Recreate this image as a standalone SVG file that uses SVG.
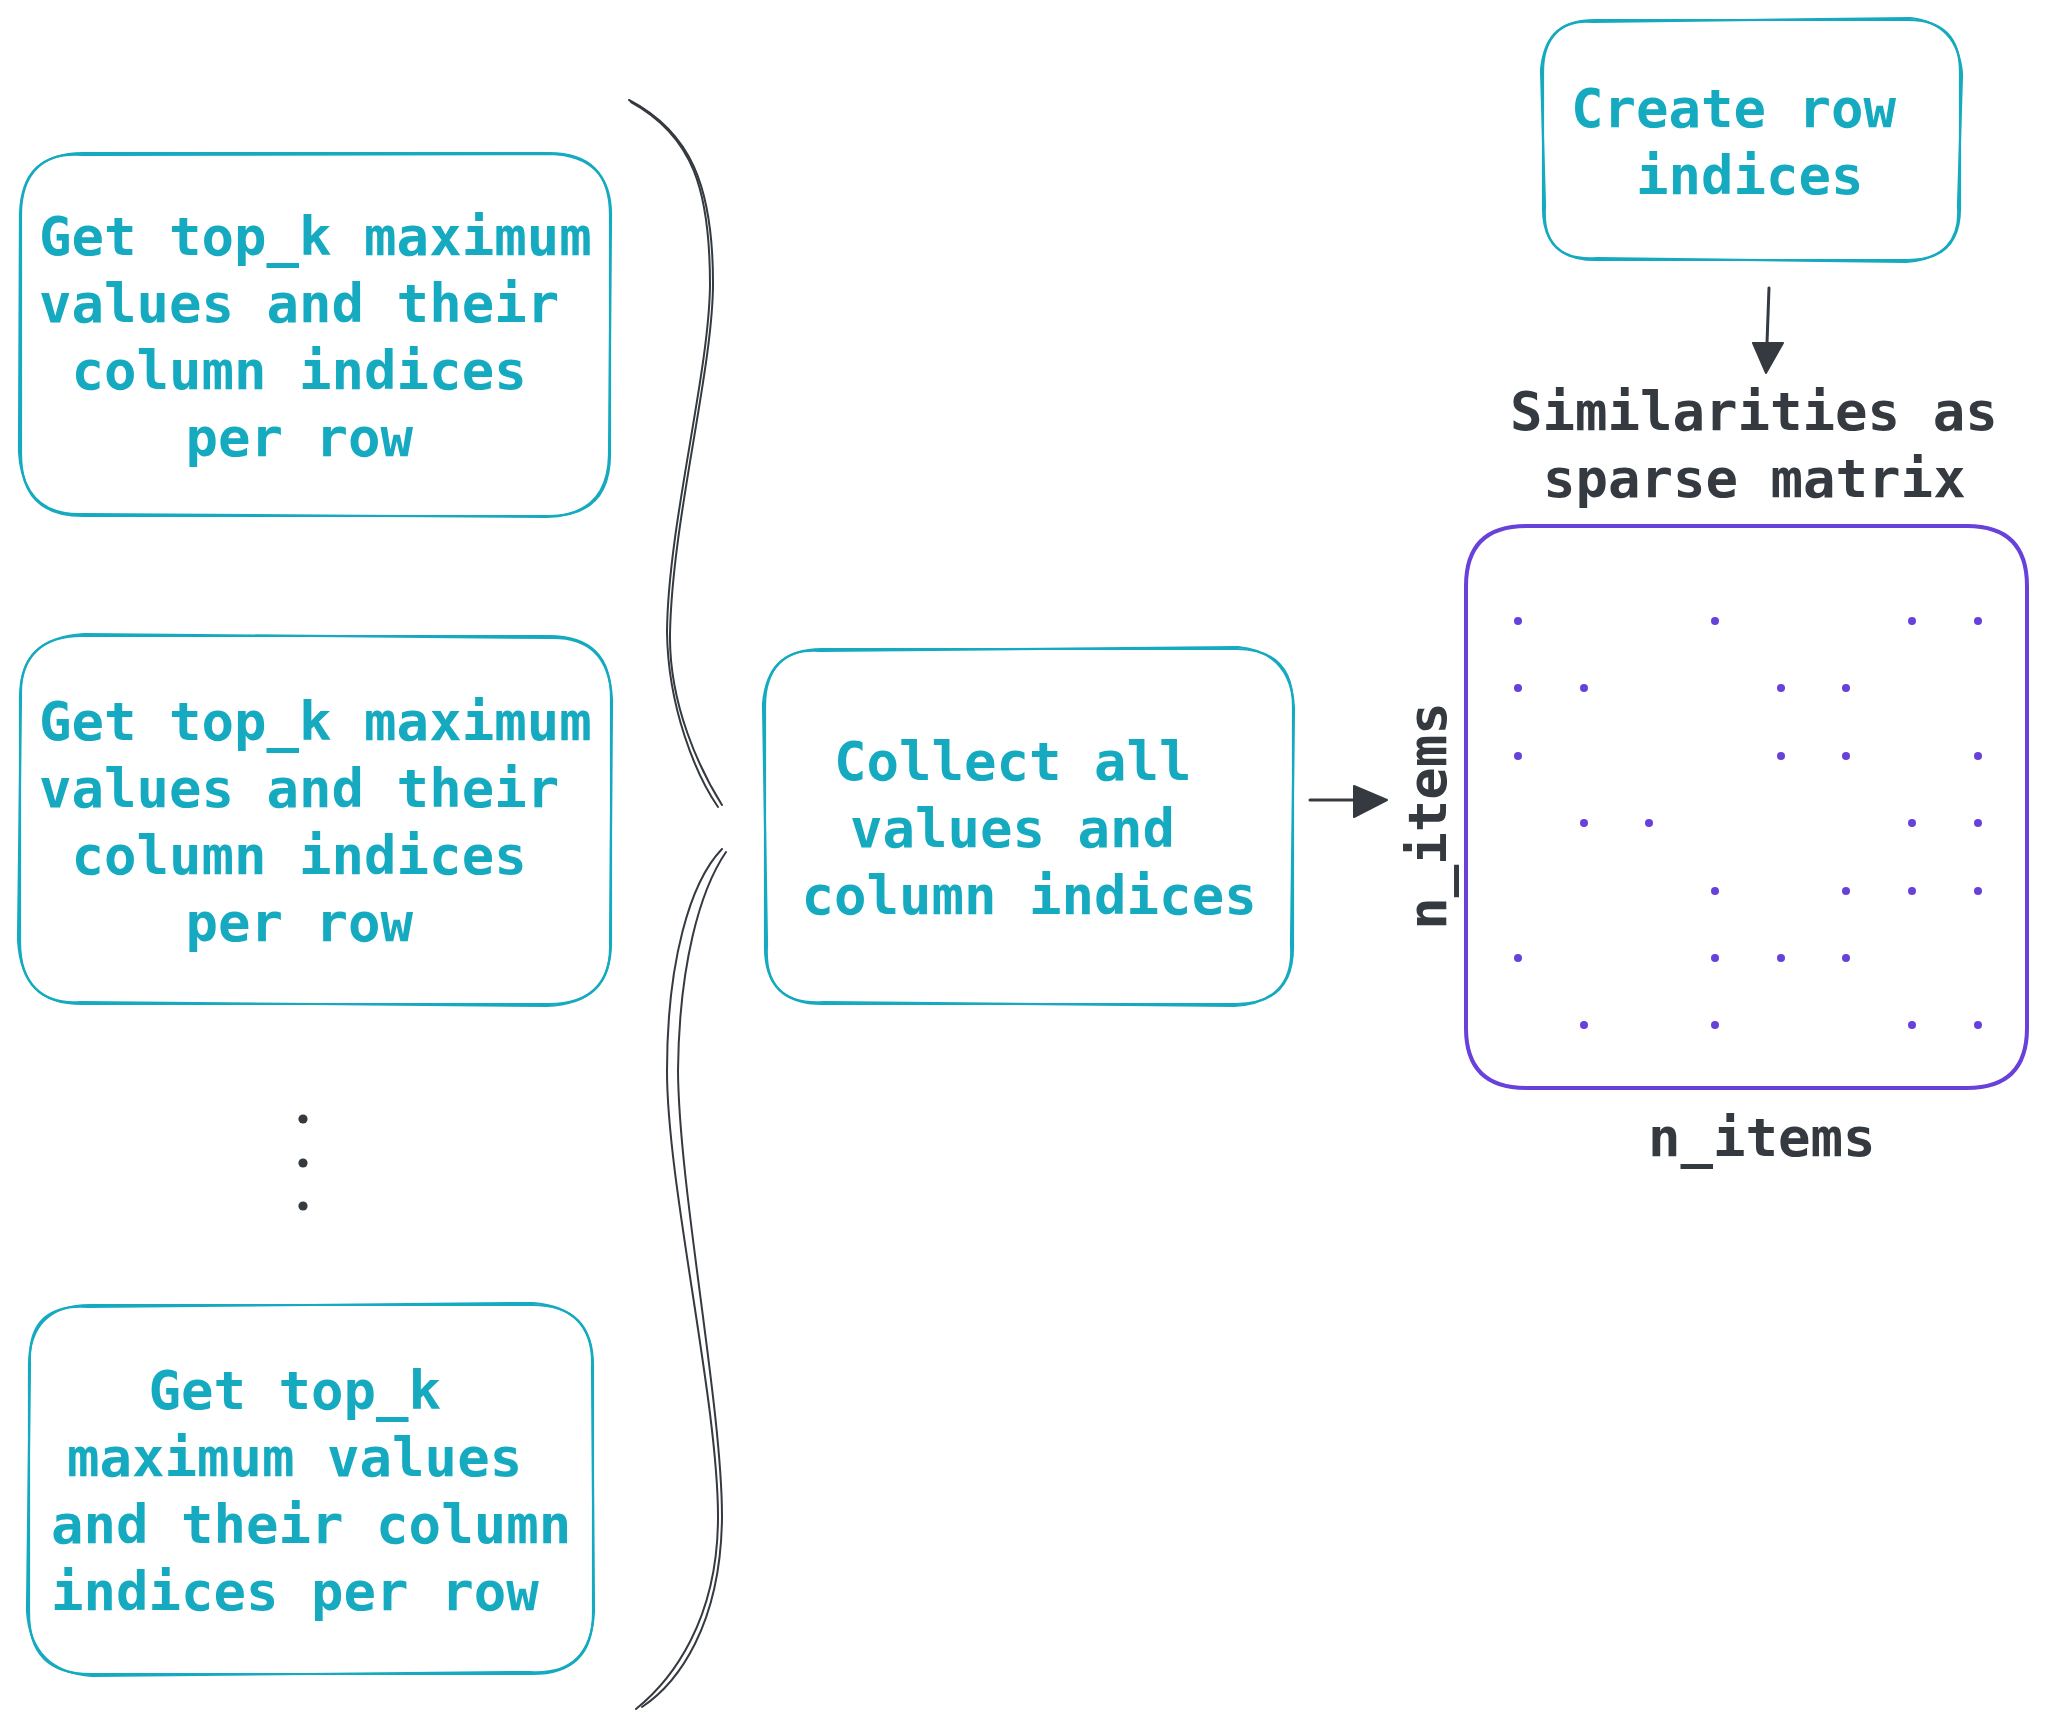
<svg xmlns="http://www.w3.org/2000/svg" width="2047" height="1731" viewBox="0 0 2047 1731">
<style>
.bx{fill:none;stroke:#15aabf;stroke-width:2.2;stroke-linecap:round;stroke-linejoin:round}
.mx{fill:none;stroke:#6741d9;stroke-width:4;stroke-linecap:round;stroke-linejoin:round}
.t{font-family:"DejaVu Sans Mono","Liberation Mono",monospace;font-weight:bold;font-size:54px;fill:#15aabf}
.d{font-family:"DejaVu Sans Mono","Liberation Mono",monospace;font-weight:bold;font-size:54px;fill:#343a40}
.br{fill:none;stroke:#343a40;stroke-width:2;stroke-linecap:round}
.ln{fill:none;stroke:#343a40;stroke-width:3;stroke-linecap:round}
.hd{fill:#343a40;stroke:#343a40;stroke-width:2;stroke-linejoin:round}
.pd{fill:#6741d9}
.kd{fill:#343a40}
</style>
<rect width="2047" height="1731" fill="#ffffff"/>
<g id="connectors">
  <g id="brace">
    <path class="br" d="M629,100 C690,132 713,185 713,283 C713,370 672,520 670,634 C669,705 700,770 722,805"/>
    <path class="br" d="M631,102 C693,136 710,190 710,285 C709,375 668,525 667,632 C668,708 696,775 718,807"/>
    <path class="br" d="M722,849 C690,882 667,962 667,1071 C667,1185 718,1400 718,1517 C718,1620 672,1680 636,1709"/>
    <path class="br" d="M726,852 C700,890 679,965 678,1071 C679,1190 722,1405 722,1517 C721,1625 678,1683 642,1707"/>
  </g>
  <g id="arrow-down">
    <path class="ln" d="M1769,288 L1767,343"/>
    <path class="hd" d="M1753,343 L1783,343 L1766,373 Z"/>
  </g>
  <g id="arrow-right">
    <path class="ln" d="M1310,800 L1356,800"/>
    <path class="hd" d="M1354,786 L1387,800 L1354,817 Z"/>
  </g>
</g>
<g id="node-topk-1">
  <path class="bx" d="M83,153 L549,153 Q610,153 610,215 L610,454 Q610,516 549,516 L83,516 Q21,516 21,454 L21,215 Q21,153 83,153 Z"/>
  <path class="bx" d="M82,155 L550,154 Q612,156 611,217 L609,455 Q608,515 547,517 L84,514 Q23,517 19,452 L20,214 Q22,151 82,155 Z"/>
  <text class="t" x="39" y="255">Get top_k maximum</text>
  <text class="t" x="39" y="322">values and their</text>
  <text class="t" x="71.5" y="389">column indices</text>
  <text class="t" x="185.5" y="456">per row</text>
</g>
<g id="node-topk-2">
  <path class="bx" d="M82,636 L549,636 Q611,636 611,698 L611,942 Q611,1004 549,1004 L82,1004 Q20,1004 20,942 L20,698 Q20,636 82,636 Z"/>
  <path class="bx" d="M84,634 L548,638 Q609,635 612,700 L610,944 Q612,1003 547,1006 L80,1002 Q22,1006 18,940 L21,696 Q19,638 84,634 Z"/>
  <text class="t" x="39" y="740">Get top_k maximum</text>
  <text class="t" x="39" y="807">values and their</text>
  <text class="t" x="71.5" y="874">column indices</text>
  <text class="t" x="185.5" y="941">per row</text>
</g>
<g id="ellipsis">
  <circle class="kd" cx="303" cy="1119" r="4.6"/>
  <circle class="kd" cx="303" cy="1163" r="4.6"/>
  <circle class="kd" cx="303" cy="1206" r="4.6"/>
</g>
<g id="node-topk-3">
  <path class="bx" d="M90,1305 L532,1305 Q593,1305 593,1366 L593,1613 Q593,1674 532,1674 L90,1674 Q29,1674 29,1613 L29,1366 Q29,1305 90,1305 Z"/>
  <path class="bx" d="M88,1307 L533,1303 Q595,1308 592,1368 L594,1611 Q591,1676 530,1672 L92,1676 Q31,1672 27,1611 L30,1364 Q27,1303 88,1307 Z"/>
  <text class="t" x="148.5" y="1409">Get top_k</text>
  <text class="t" x="67" y="1476">maximum values</text>
  <text class="t" x="51" y="1543">and their column</text>
  <text class="t" x="51" y="1610">indices per row</text>
</g>
<g id="node-collect">
  <path class="bx" d="M822,649 L1236,649 Q1293,649 1293,706 L1293,947 Q1293,1004 1236,1004 L822,1004 Q765,1004 765,947 L765,706 Q765,649 822,649 Z"/>
  <path class="bx" d="M820,651 L1238,647 Q1291,652 1294,708 L1291,945 Q1295,1002 1234,1006 L824,1002 Q763,1006 767,945 L763,704 Q768,647 820,651 Z"/>
  <text class="t" x="834" y="780">Collect all</text>
  <text class="t" x="850" y="847">values and</text>
  <text class="t" x="801.5" y="914">column indices</text>
</g>
<g id="node-create-row">
  <path class="bx" d="M1595,20 L1908,20 Q1960,20 1960,72 L1960,208 Q1960,260 1908,260 L1595,260 Q1543,260 1543,208 L1543,72 Q1543,20 1595,20 Z"/>
  <path class="bx" d="M1593,22 L1910,18 Q1958,23 1962,74 L1958,206 Q1962,258 1906,262 L1597,258 Q1541,262 1545,206 L1541,70 Q1546,18 1593,22 Z"/>
  <text class="t" x="1571" y="127">Create row</text>
  <text class="t" x="1636" y="194">indices</text>
</g>
<g id="label-similarities">
  <text class="d" x="1510" y="430">Similarities as</text>
  <text class="d" x="1543" y="497">sparse matrix</text>
</g>
<g id="node-matrix">
  <path class="mx" d="M1526,526 L1967,526 Q2027,526 2027,586 L2027,1028 Q2027,1088 1967,1088 L1526,1088 Q1466,1088 1466,1028 L1466,586 Q1466,526 1526,526 Z"/>
  <g id="dots">
    <circle class="pd" cx="1518" cy="621" r="4"/><circle class="pd" cx="1715" cy="621" r="4"/><circle class="pd" cx="1912" cy="621" r="4"/><circle class="pd" cx="1978" cy="621" r="4"/>
    <circle class="pd" cx="1518" cy="688" r="4"/><circle class="pd" cx="1584" cy="688" r="4"/><circle class="pd" cx="1781" cy="688" r="4"/><circle class="pd" cx="1846" cy="688" r="4"/>
    <circle class="pd" cx="1518" cy="756" r="4"/><circle class="pd" cx="1781" cy="756" r="4"/><circle class="pd" cx="1846" cy="756" r="4"/><circle class="pd" cx="1978" cy="756" r="4"/>
    <circle class="pd" cx="1584" cy="823" r="4"/><circle class="pd" cx="1649" cy="823" r="4"/><circle class="pd" cx="1912" cy="823" r="4"/><circle class="pd" cx="1978" cy="823" r="4"/>
    <circle class="pd" cx="1715" cy="891" r="4"/><circle class="pd" cx="1846" cy="891" r="4"/><circle class="pd" cx="1912" cy="891" r="4"/><circle class="pd" cx="1978" cy="891" r="4"/>
    <circle class="pd" cx="1518" cy="958" r="4"/><circle class="pd" cx="1715" cy="958" r="4"/><circle class="pd" cx="1781" cy="958" r="4"/><circle class="pd" cx="1846" cy="958" r="4"/>
    <circle class="pd" cx="1584" cy="1025" r="4"/><circle class="pd" cx="1715" cy="1025" r="4"/><circle class="pd" cx="1912" cy="1025" r="4"/><circle class="pd" cx="1978" cy="1025" r="4"/>
  </g>
  <text class="d" x="1648" y="1156">n_items</text>
  <text class="d" transform="translate(1446,816) rotate(-90)" x="0" y="0" text-anchor="middle">n_items</text>
</g>
</svg>
